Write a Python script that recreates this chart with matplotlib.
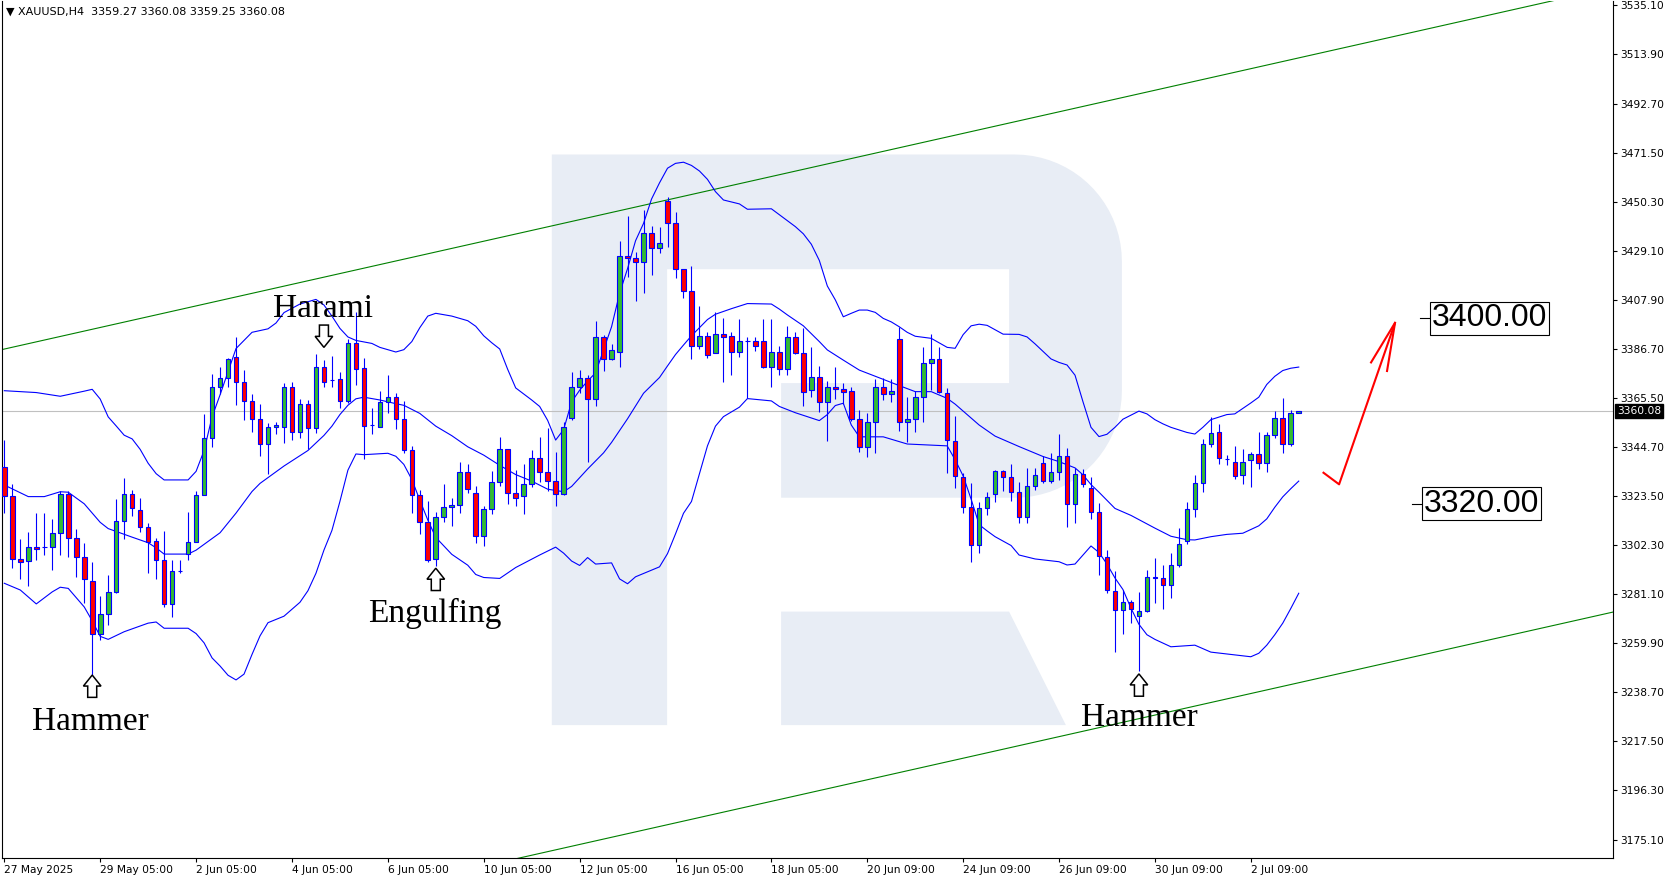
import numpy as np
import matplotlib
matplotlib.use("Agg")
import matplotlib.pyplot as plt
import matplotlib.transforms as mtransforms
from matplotlib.patches import Polygon

# XAUUSD H4 candles, 27 May 2025 -> 2 Jul 2025 (bar index 0..162)
opens = [3336.0, 3323.4, 3296.0, 3295.2, 3301.2, 3301.2, 3301.5, 3307.3, 3324.2, 3305.1,
         3296.9, 3286.5, 3263.8, 3272.3, 3281.8, 3312.4, 3324.1, 3317.2, 3309.8, 3303.9,
         3295.8, 3276.6, 3290.8, 3298.3, 3303.4, 3323.7, 3348.3, 3370.5, 3374.1, 3383.2,
         3372.4, 3364.5, 3356.4, 3345.7, 3353.0, 3353.0, 3370.5, 3351.0, 3362.9, 3352.6,
         3378.9, 3373.5, 3373.7, 3364.2, 3389.2, 3378.5, 3354.0, 3353.3, 3363.8, 3365.9,
         3356.4, 3343.2, 3323.8, 3312.0, 3296.0, 3314.5, 3318.5, 3319.5, 3333.6, 3324.5,
         3306.1, 3317.6, 3329.6, 3343.5, 3324.5, 3323.4, 3328.4, 3339.6, 3333.6, 3329.8,
         3324.2, 3356.9, 3370.6, 3374.1, 3365.1, 3391.8, 3382.3, 3385.4, 3427.1, 3425.9,
         3424.2, 3436.7, 3430.2, 3450.8, 3441.0, 3421.2, 3411.8, 3388.1, 3392.3, 3384.9,
         3393.4, 3392.3, 3385.4, 3390.3, 3390.1, 3390.1, 3378.9, 3385.7, 3378.0, 3391.8,
         3384.9, 3369.1, 3374.6, 3364.1, 3370.3, 3369.5, 3368.5, 3356.5, 3344.4, 3355.2,
         3370.3, 3367.2, 3391.0, 3355.2, 3356.5, 3366.2, 3380.6, 3382.3, 3367.7, 3347.2,
         3331.7, 3318.5, 3302.2, 3318.1, 3324.1, 3334.3, 3331.4, 3325.0, 3314.2, 3327.8,
         3337.8, 3330.0, 3333.9, 3340.5, 3319.9, 3332.7, 3327.0, 3316.3, 3297.2, 3282.5,
         3274.2, 3277.5, 3271.6, 3273.9, 3288.6, 3287.8, 3285.0, 3293.6, 3304.1, 3317.6,
         3328.8, 3345.7, 3351.1, 3339.5, 3338.2, 3332.4, 3338.9, 3341.4, 3337.5, 3349.5,
         3356.9, 3345.8, 3359.27]
highs = [3347.5, 3328.5, 3304.8, 3308.0, 3315.9, 3315.9, 3313.4, 3325.5, 3325.5, 3309.0,
         3302.9, 3294.7, 3280.2, 3289.3, 3321.9, 3331.1, 3326.0, 3322.4, 3311.6, 3305.1,
         3308.3, 3295.8, 3295.8, 3316.6, 3325.5, 3358.7, 3376.0, 3379.2, 3383.1, 3392.1,
         3377.7, 3367.4, 3363.1, 3354.7, 3355.4, 3372.3, 3372.7, 3365.1, 3364.8, 3384.6,
         3382.1, 3383.8, 3377.0, 3391.0, 3402.9, 3382.8, 3361.2, 3368.7, 3375.6, 3368.0,
         3364.5, 3344.9, 3326.0, 3321.2, 3316.3, 3328.6, 3322.4, 3337.9, 3337.0, 3327.7,
         3319.1, 3334.3, 3348.7, 3343.8, 3334.6, 3337.0, 3343.2, 3348.7, 3352.6, 3342.5,
         3355.2, 3377.0, 3377.7, 3375.6, 3398.9, 3392.8, 3389.0, 3433.4, 3444.3, 3428.8,
         3446.8, 3439.9, 3439.3, 3452.5, 3445.8, 3421.3, 3422.6, 3405.4, 3394.3, 3402.9,
         3400.0, 3394.3, 3399.6, 3392.1, 3392.1, 3399.6, 3399.6, 3388.1, 3396.7, 3394.3,
         3395.7, 3387.5, 3379.5, 3373.1, 3378.9, 3372.0, 3370.3, 3360.5, 3359.0, 3373.7,
         3374.1, 3373.7, 3396.4, 3365.9, 3368.8, 3387.5, 3393.3, 3387.5, 3369.8, 3357.9,
         3333.2, 3329.1, 3320.9, 3325.0, 3334.6, 3334.6, 3337.2, 3329.6, 3335.3, 3335.3,
         3340.6, 3341.8, 3350.0, 3343.9, 3335.3, 3334.9, 3331.4, 3320.2, 3300.1, 3291.2,
         3282.8, 3278.5, 3281.8, 3291.4, 3296.5, 3293.6, 3298.6, 3309.4, 3320.9, 3332.4,
         3347.8, 3357.6, 3354.4, 3341.1, 3344.9, 3343.5, 3342.2, 3350.8, 3350.8, 3360.0,
         3365.5, 3360.5, 3360.08]
lows = [3315.9, 3292.3, 3287.7, 3284.5, 3295.8, 3297.9, 3291.6, 3297.9, 3297.2, 3288.6,
        3277.1, 3246.1, 3261.2, 3267.7, 3281.4, 3304.7, 3314.9, 3308.0, 3290.0, 3287.4,
        3275.6, 3271.3, 3290.0, 3295.8, 3303.4, 3323.7, 3344.4, 3367.2, 3370.5, 3362.8,
        3356.2, 3351.1, 3340.6, 3332.9, 3350.1, 3346.4, 3347.5, 3348.3, 3343.5, 3350.4,
        3370.3, 3370.5, 3361.2, 3363.4, 3371.3, 3339.2, 3350.1, 3353.0, 3359.0, 3352.3,
        3342.1, 3316.2, 3307.0, 3295.0, 3293.3, 3312.3, 3310.6, 3315.9, 3324.5, 3303.0,
        3301.8, 3315.5, 3327.7, 3319.9, 3319.1, 3315.5, 3327.1, 3329.6, 3325.7, 3319.2,
        3323.8, 3356.2, 3367.7, 3338.2, 3362.4, 3377.5, 3382.1, 3379.2, 3417.7, 3407.7,
        3411.1, 3418.7, 3428.4, 3431.0, 3417.6, 3409.0, 3382.3, 3386.7, 3382.8, 3384.9,
        3372.7, 3375.6, 3383.2, 3365.5, 3385.9, 3378.7, 3370.3, 3375.6, 3375.6, 3384.6,
        3362.2, 3366.2, 3359.8, 3347.2, 3365.1, 3363.1, 3355.9, 3342.5, 3340.1, 3341.8,
        3364.8, 3364.1, 3351.6, 3346.8, 3351.1, 3355.4, 3369.1, 3367.7, 3333.2, 3326.7,
        3315.9, 3295.0, 3298.6, 3315.2, 3320.9, 3325.7, 3321.4, 3311.9, 3311.9, 3326.0,
        3328.8, 3329.1, 3330.3, 3309.9, 3311.9, 3327.4, 3313.3, 3289.3, 3281.7, 3256.2,
        3263.7, 3268.4, 3247.9, 3273.5, 3277.3, 3274.5, 3279.5, 3292.9, 3302.7, 3314.2,
        3325.0, 3344.4, 3337.2, 3336.7, 3330.6, 3328.4, 3327.4, 3334.9, 3333.6, 3348.3,
        3341.8, 3345.1, 3359.25]
closes = [3323.4, 3296.0, 3295.0, 3301.2, 3300.4, 3301.5, 3307.4, 3324.2, 3305.1, 3296.9,
          3287.4, 3263.8, 3272.3, 3281.8, 3312.4, 3324.1, 3318.0, 3309.8, 3303.7, 3295.8,
          3276.6, 3290.9, 3291.0, 3303.4, 3323.7, 3348.3, 3370.5, 3374.1, 3382.3, 3372.4,
          3364.5, 3356.4, 3345.7, 3353.0, 3354.0, 3370.5, 3351.0, 3362.9, 3352.6, 3378.9,
          3372.4, 3373.6, 3364.2, 3389.2, 3378.0, 3353.7, 3354.1, 3364.1, 3365.9, 3356.4,
          3343.2, 3323.8, 3312.0, 3295.8, 3314.5, 3318.5, 3319.5, 3333.6, 3326.3, 3306.1,
          3317.6, 3329.6, 3343.5, 3324.5, 3322.4, 3328.4, 3339.6, 3333.6, 3329.8, 3324.2,
          3353.0, 3370.6, 3374.1, 3365.1, 3391.8, 3382.3, 3386.2, 3427.1, 3425.9, 3424.2,
          3436.7, 3430.2, 3432.4, 3441.0, 3421.2, 3411.8, 3388.1, 3392.3, 3384.2, 3393.4,
          3392.1, 3385.4, 3390.4, 3390.4, 3388.1, 3378.9, 3385.7, 3378.0, 3391.8, 3384.9,
          3368.4, 3374.6, 3364.1, 3370.3, 3369.4, 3368.4, 3356.5, 3344.4, 3355.2, 3370.3,
          3367.2, 3368.5, 3355.2, 3356.5, 3366.2, 3380.6, 3382.3, 3368.4, 3347.5, 3332.0,
          3318.5, 3302.2, 3318.1, 3322.8, 3334.3, 3331.7, 3325.0, 3314.2, 3327.8, 3332.4,
          3330.0, 3333.9, 3340.5, 3319.9, 3332.7, 3328.6, 3316.3, 3297.5, 3282.8, 3274.2,
          3277.5, 3274.5, 3273.9, 3288.6, 3287.8, 3285.0, 3293.6, 3302.7, 3317.6, 3328.8,
          3345.7, 3350.7, 3339.9, 3339.3, 3332.0, 3338.2, 3341.4, 3337.5, 3349.5, 3356.9,
          3345.8, 3359.0, 3360.08]

# Bollinger bands (bar index -> price)
upper_bars = [0, 4, 7, 10, 11, 12, 13, 14, 15, 16, 17, 18, 19, 20, 23, 24, 25, 26, 27, 28,
              29, 31, 33, 34, 35, 37, 39, 40, 41, 42, 43, 44, 46, 47, 49, 50, 51, 52, 53, 54,
              56, 58, 59, 60, 61, 62, 63, 64, 66, 67, 68, 69, 70, 71, 72, 73, 74, 75, 76, 77,
              78, 79, 80, 81, 82, 83, 84, 85, 86, 87, 88, 89, 90, 92, 93, 96, 98, 99, 100, 101,
              102, 103, 104, 105, 106, 107, 108, 109, 110, 111, 112, 113, 114, 116, 118, 119, 120, 121, 122, 123,
              125, 127, 128, 129, 131, 132, 133, 134, 135, 136, 137, 138, 139, 140, 142, 143, 144, 145, 146, 148,
              149, 150, 151, 153, 154, 156, 157, 158, 159, 160, 161, 162]
upper_band = [3368.8, 3368.0, 3366.4, 3368.6, 3369.4, 3365.2, 3357.5, 3353.6, 3349.6, 3348.0,
              3343.5, 3337.5, 3333.0, 3330.3, 3330.3, 3334.0, 3343.0, 3357.5, 3367.0, 3377.0,
              3387.0, 3394.0, 3395.5, 3398.0, 3402.5, 3406.2, 3408.2, 3405.8, 3401.0, 3395.7,
              3392.0, 3390.5, 3389.2, 3387.5, 3385.5, 3386.5, 3390.0, 3396.0, 3401.0, 3402.2,
              3401.0, 3399.0, 3396.6, 3392.5, 3389.5, 3386.8, 3378.0, 3370.0, 3364.8, 3362.0,
              3356.0, 3347.5, 3352.0, 3364.0, 3369.0, 3373.0, 3376.5, 3386.4, 3396.4, 3410.8,
              3421.5, 3433.5, 3441.0, 3451.5, 3458.5, 3464.8, 3466.9, 3467.4, 3466.0, 3463.6,
              3460.0, 3454.7, 3451.1, 3449.4, 3447.1, 3447.3, 3442.2, 3439.6, 3436.5, 3432.0,
              3425.0, 3414.0, 3408.0, 3400.7, 3402.2, 3403.6, 3403.6, 3402.6, 3400.0, 3398.5,
              3396.4, 3394.0, 3392.3, 3391.4, 3387.5, 3387.1, 3393.0, 3396.8, 3397.5, 3397.0,
              3393.2, 3393.1, 3392.0, 3389.0, 3382.5, 3381.0, 3379.9, 3375.5, 3364.0, 3353.0,
              3349.0, 3350.0, 3353.0, 3356.5, 3360.0, 3358.8, 3356.3, 3354.5, 3353.0, 3350.8,
              3350.1, 3353.0, 3356.3, 3358.5, 3358.8, 3363.5, 3366.0, 3371.5, 3375.0, 3377.5,
              3378.5, 3379.0]
middle_bars = [0, 3, 5, 7, 8, 10, 12, 13, 16, 18, 19, 20, 23, 24, 25, 27, 29, 31, 32, 35,
               38, 40, 41, 42, 43, 44, 45, 47, 49, 50, 52, 54, 56, 58, 60, 62, 64, 66, 68, 70,
               71, 73, 75, 76, 78, 80, 82, 83, 84, 85, 86, 88, 89, 91, 93, 96, 97, 98, 100, 102,
               103, 105, 107, 110, 112, 114, 116, 118, 119, 120, 122, 124, 127, 130, 132, 134, 135, 136, 137, 139,
               141, 144, 146, 148, 149, 151, 153, 155, 157, 158, 159, 160, 161, 162]
middle_band = [3328.1, 3323.1, 3323.1, 3325.2, 3325.0, 3320.0, 3312.0, 3309.3, 3305.6, 3303.2,
               3301.0, 3298.3, 3298.3, 3300.0, 3302.5, 3307.5, 3316.0, 3325.3, 3328.8, 3336.3,
               3343.0, 3349.5, 3353.5, 3358.5, 3362.5, 3365.3, 3366.0, 3364.8, 3363.2, 3362.5,
               3359.0, 3353.5, 3349.4, 3344.6, 3341.0, 3336.6, 3332.6, 3329.8, 3326.3, 3325.2,
               3327.5, 3335.0, 3342.0, 3346.5, 3356.7, 3367.7, 3374.5, 3379.5, 3384.4, 3388.5,
               3392.5, 3399.5, 3401.8, 3404.2, 3406.4, 3406.2, 3404.0, 3401.5, 3396.8, 3390.0,
               3386.4, 3382.0, 3377.7, 3373.7, 3371.0, 3368.4, 3368.4, 3365.5, 3363.0, 3360.0,
               3354.0, 3349.2, 3344.7, 3340.4, 3338.2, 3335.5, 3332.5, 3328.3, 3325.0, 3318.0,
               3315.0, 3309.5, 3306.0, 3304.5, 3304.4, 3305.8, 3306.8, 3307.3, 3310.5, 3313.5,
               3318.5, 3323.0, 3326.5, 3329.8]
lower_bars = [0, 2, 4, 6, 7, 8, 10, 11, 12, 13, 15, 18, 19, 20, 23, 24, 25, 26, 27, 28,
              29, 30, 31, 32, 33, 35, 37, 38, 39, 40, 41, 42, 43, 44, 45, 48, 49, 50, 51, 52,
              53, 54, 56, 58, 59, 60, 62, 64, 67, 69, 70, 71, 72, 73, 74, 76, 77, 78, 79, 82,
              83, 84, 85, 86, 87, 88, 89, 90, 92, 93, 96, 97, 99, 102, 103, 104, 105, 106, 107, 110,
              113, 118, 119, 120, 121, 122, 123, 124, 126, 127, 129, 132, 133, 134, 135, 136, 137, 138, 139, 140,
              141, 142, 143, 144, 146, 149, 151, 154, 156, 157, 158, 159, 160, 161, 162]
lower_band = [3285.7, 3282.8, 3276.8, 3282.0, 3284.0, 3283.5, 3275.5, 3269.5, 3262.8, 3261.5,
              3264.8, 3268.5, 3269.0, 3266.3, 3266.3, 3264.0, 3260.0, 3253.5, 3250.0, 3246.0,
              3244.0, 3246.5, 3255.0, 3263.0, 3268.7, 3271.5, 3277.5, 3282.5, 3290.0, 3300.0,
              3308.5, 3321.0, 3334.5, 3341.5, 3341.2, 3341.8, 3340.5, 3337.0, 3330.5, 3321.6,
              3313.0, 3305.5, 3298.2, 3293.5, 3289.5, 3288.2, 3287.8, 3292.5, 3297.9, 3301.3,
              3298.7, 3295.3, 3293.4, 3296.8, 3294.0, 3294.5, 3287.6, 3285.5, 3288.5, 3292.8,
              3298.5, 3307.0, 3315.9, 3321.0, 3333.0, 3345.0, 3353.5, 3357.6, 3361.7, 3365.4,
              3364.4, 3362.0, 3359.3, 3355.9, 3358.5, 3362.4, 3363.4, 3354.0, 3348.9, 3348.9,
              3345.8, 3345.0, 3339.0, 3332.0, 3322.0, 3311.0, 3308.3, 3305.8, 3302.0, 3297.9,
              3296.2, 3295.0, 3293.6, 3294.0, 3297.9, 3301.8, 3299.0, 3294.0, 3288.0, 3283.0,
              3275.0, 3268.0, 3263.5, 3261.5, 3258.3, 3259.0, 3256.0, 3254.8, 3254.0, 3255.5,
              3259.0, 3263.5, 3268.5, 3274.8, 3281.4]

# trend channel (two points per line, bar index / price)
channel_top_bars = [-1, 195]
channel_top = [3386.0, 3538.0]
channel_bottom_bars = [60, 202]
channel_bottom = [3163.7, 3273.8]

x_tick_bars = [0, 12, 24, 36, 48, 60, 72, 84, 96, 108, 120, 132, 144, 156]
x_tick_labels = ['27 May 2025', '29 May 05:00', '2 Jun 05:00', '4 Jun 05:00', '6 Jun 05:00',
                 '10 Jun 05:00', '12 Jun 05:00', '16 Jun 05:00', '18 Jun 05:00', '20 Jun 09:00',
                 '24 Jun 09:00', '26 Jun 09:00', '30 Jun 09:00', '2 Jul 09:00']
y_ticks = [3535.10, 3513.90, 3492.70, 3471.50, 3450.30, 3429.10, 3407.90, 3386.70, 3365.50,
           3344.70, 3323.50, 3302.30, 3281.10, 3259.90, 3238.70, 3217.50, 3196.30, 3175.10]

last_price = 3360.08
header = '\u25bc XAUUSD,H4  3359.27 3360.08 3359.25 3360.08'

# candle patterns: label, bar, label baseline price, arrow tip price, arrow points up?
pattern_names = ['Harami', 'Engulfing', 'Hammer', 'Hammer']
pattern_bars = [40, 54, 11, 142]
pattern_label_bars = [39.9, 53.9, 10.8, 142.0]
pattern_label_prices = [3400.7, 3268.8, 3222.6, 3224.0]
pattern_tip_prices = [3387.5, 3292.2, 3246.1, 3246.6]
pattern_up = [False, True, True, True]

# forecast levels and drawn arrow
target_levels = [3400.00, 3320.00]
target_center_bars = [185.9, 184.9]
target_tick_bars = [(177.2, 178.4), (176.2, 177.5)]
forecast_bars = [165.1, 167.05, 174.05]
forecast_prices = [3333.4, 3328.4, 3398.1]
forecast_head_bars = [171.05, 174.05, 173.05]
forecast_head_prices = [3381.0, 3398.1, 3377.3]

BLUE = '#0000FF'
GREEN = '#33BB33'
RED = '#FF0000'
W, H = 1677, 882

fig = plt.figure(figsize=(W / 100, H / 100), dpi=100)
fig.patch.set_facecolor('white')
ax = fig.add_axes([2 / W, 24 / H, 1611 / W, 857 / H])
ax.set_xlim(-0.29, 201.33)
ax.set_ylim(3167.16, 3536.96)

# background logo (big "R"), in image pixels
def px(x, y):
    return (x / W, 1 - y / H)

top = np.linspace(-np.pi / 2, 0, 20)
bot = np.linspace(0, np.pi / 2, 20)
outline = [(551.8, 154.5), (1014.9, 154.5)]
outline += [(1014.9 + 107 * np.cos(a), 261.5 + 107 * np.sin(a)) for a in top]
outline += [(1014.9 + 107 * np.cos(a), 390.7 + 107 * np.sin(a)) for a in bot]
outline += [(781.1, 497.7), (781.1, 383.1), (1009.1, 383.1), (1009.1, 269.2),
            (667.1, 269.2), (667.1, 725.1), (551.8, 725.1)]
leg = [(781.1, 611.6), (1009.1, 611.6), (1065.9, 725.1), (781.1, 725.1)]
for shape in (outline, leg):
    ax.add_patch(Polygon([px(x, y) for x, y in shape], closed=True, transform=fig.transFigure,
                         facecolor='#E8EDF5', edgecolor='none', zorder=0))

# channel, bands, price line
ax.plot(channel_top_bars, channel_top, color='#008000', lw=0.8, zorder=2)
ax.plot(channel_bottom_bars, channel_bottom, color='#008000', lw=0.8, zorder=2)
for bx, by in ((upper_bars, upper_band), (middle_bars, middle_band), (lower_bars, lower_band)):
    ax.plot(bx, by, color=BLUE, lw=0.8, zorder=3)
ax.axhline(last_price, color='#C0C0C0', lw=0.8, zorder=1)

# candles
o, hi, lo, c = map(np.array, (opens, highs, lows, closes))
idx = np.arange(len(o))
colors = [GREEN if cc >= oo else RED for oo, cc in zip(o, c)]
ax.vlines(idx, lo, hi, color=BLUE, lw=0.8, zorder=4)
ax.bar(idx, np.abs(c - o), bottom=np.minimum(o, c), width=0.58, color=colors,
       edgecolor=BLUE, linewidth=0.8, zorder=5)

# axes styling
for side in ('left', 'right', 'bottom'):
    ax.spines[side].set_linewidth(0.8)
    ax.spines[side].set_color('black')
ax.spines['top'].set_visible(False)
ax.yaxis.tick_right()
ax.set_yticks(y_ticks)
ax.set_yticklabels(['%.2f' % v for v in y_ticks])
ax.set_xticks(x_tick_bars)
ax.set_xticklabels(x_tick_labels)
for lbl in ax.get_xticklabels():
    lbl.set_horizontalalignment('left')
ax.tick_params(axis='both', direction='out', length=3, width=0.8, pad=2, labelsize=7.7,
               colors='black')

# current price tag
ax.text(1 + 4 / 1611, last_price, '%.2f' % last_price, transform=ax.get_yaxis_transform(),
        ha='left', va='center', color='white', fontsize=7.7, zorder=10, clip_on=False,
        bbox=dict(boxstyle='square,pad=0.2', fc='black', ec='black'))

fig.text(6 / W, 1 - 12 / H, header, fontsize=8, va='center', ha='left', family='DejaVu Sans')

# pattern labels and hollow arrows
def hollow_arrow(xb, yp, up):
    s = 1 if up else -1
    pts = [(0, 0), (8.8, -11 * s), (4.5, -11 * s), (4.5, -22.3 * s), (-4.5, -22.3 * s),
           (-4.5, -11 * s), (-8.8, -11 * s)]
    ox, oy = ax.transData.transform((xb, yp))
    tr = mtransforms.Affine2D().translate(ox, oy)
    ax.add_patch(Polygon(pts, closed=True, transform=tr, facecolor='white',
                         edgecolor='black', lw=1.1, zorder=8))

for name, b, lb, lp, tp, up in zip(pattern_names, pattern_bars, pattern_label_bars,
                                   pattern_label_prices, pattern_tip_prices, pattern_up):
    ax.text(lb, lp, name, ha='center', va='baseline', fontsize=24,
            family='Liberation Serif', color='black', zorder=9)
    hollow_arrow(b, tp, up)

# forecast levels
for lvl, cb, (t0, t1) in zip(target_levels, target_center_bars, target_tick_bars):
    ax.plot([t0, t1], [lvl, lvl], color='black', lw=0.8, zorder=7)
    ax.text(cb, lvl, '%.2f' % lvl, ha='center', va='center', fontsize=23,
            family='Liberation Sans', color='black', zorder=9,
            bbox=dict(boxstyle='square,pad=0.05', fc='white', ec='black', lw=0.8))

ax.plot(forecast_bars, forecast_prices, color=RED, lw=1.5, zorder=7)
ax.plot(forecast_head_bars, forecast_head_prices, color=RED, lw=1.5, zorder=7)

fig.savefig('out.png', dpi=100)
